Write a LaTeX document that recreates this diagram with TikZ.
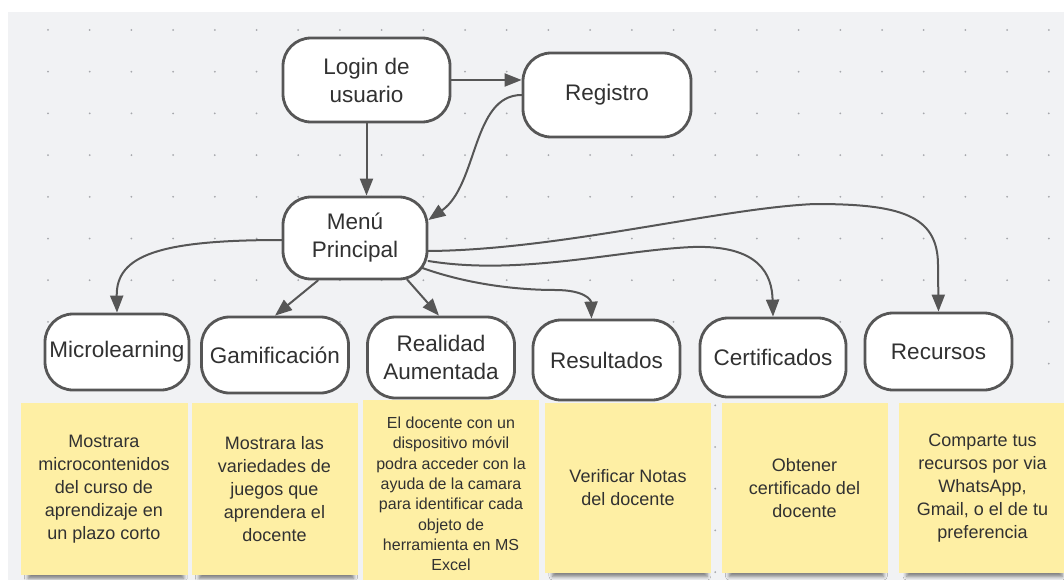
\documentclass[tikz,border=0pt]{standalone}
\usepackage{fontspec}
\setmainfont{Liberation Sans}
\usetikzlibrary{arrows.meta,shadows.blur}

\definecolor{fondo}{HTML}{F1F2F4}
\definecolor{punto}{HTML}{A6A8AC}
\definecolor{borde}{HTML}{565656}
\definecolor{amarillo}{HTML}{FEEFA4}
\definecolor{texto}{HTML}{313131}

\begin{document}
\begin{tikzpicture}[x=1pt, y=-1pt, line join=round, line cap=round,
    caja/.style={draw=borde, line width=2.8pt, fill=white, rounded corners=28pt,
        text=texto, align=center, inner sep=0pt, font=\fontsize{22.5}{28}\selectfont},
    nota/.style={fill=amarillo, text=texto, align=center, inner sep=0pt,
        font=\fontsize{18}{23}\selectfont,
        blur shadow={shadow xshift=2pt, shadow yshift=-10pt, shadow scale=0.93,
            shadow blur radius=4pt, shadow opacity=50}},
    flecha/.style={draw=borde, line width=2pt, -{Triangle[length=17pt,width=13pt]}}]

    % lienzo punteado
    \clip (0,0) rectangle (1064,580);
    \fill[white] (0,0) rectangle (1064,580);
    \fill[fondo] (8,12) rectangle (1064,580);
    \foreach \i in {0,...,24}
        \foreach \j in {0,...,13}
            \fill[punto] (48+41.7*\i, 30+41.7*\j) circle (1pt);

    % cajas
    \node[caja, minimum width=167pt, minimum height=84pt] (login) at (366.5,80) {Login de\\usuario};
    \node[caja, minimum width=168pt, minimum height=84pt] (reg) at (607,95) {Registro};
    \node[caja, minimum width=144pt, minimum height=82pt] (menu) at (355,238) {Menú\\Principal};

    \node[caja, minimum width=144pt, minimum height=76pt] (micro) at (117,352) {Microlearning};
    \node[caja, minimum width=147pt, minimum height=76pt] (gami) at (275,355) {Gamificación};
    \node[caja, minimum width=147pt, minimum height=81pt] (ra) at (441,357.5) {Realidad\\Aumentada};
    \node[caja, minimum width=147pt, minimum height=80pt] (res) at (606.5,360) {Resultados};
    \node[caja, minimum width=146pt, minimum height=79pt] (cert) at (773,357.5) {Certificados};
    \node[caja, minimum width=147pt, minimum height=77pt] (rec) at (938.5,351.5) {Recursos};

    % notas
    \node[nota, minimum width=167pt, minimum height=172pt] (nmicro) at (104,489)
        {Mostrara\\microcontenidos\\del curso de\\aprendizaje en\\un plazo corto};
    \node[nota, minimum width=166pt, minimum height=172pt] (ngami) at (274.5,489)
        {Mostrara las\\variedades de\\juegos que\\aprendera el\\docente};
    \node[nota, minimum width=176pt, minimum height=188pt, font=\fontsize{16}{20.3}\selectfont] (nra) at (451,494)
        {El docente con un\\dispositivo móvil\\podra acceder con la\\ayuda de la camara\\para identificar cada\\objeto de\\herramienta en MS\\Excel};
    \node[nota, minimum width=166pt, minimum height=170pt] (nres) at (628,488)
        {Verificar Notas\\del docente};
    \node[nota, minimum width=166pt, minimum height=170pt] (ncert) at (804.5,488)
        {Obtener\\certificado del\\docente};
    \node[nota, minimum width=167pt, minimum height=170pt] (nrec) at (982.5,488)
        {Comparte tus\\recursos por via\\WhatsApp,\\Gmail, o el de tu\\preferencia};

    % conexiones
    \draw[flecha] (login.east) -- (login.east -| reg.west);
    \draw[flecha] (login.south) -- (login.south |- menu.north);
    \draw[flecha] (reg.west) .. controls (472,95) and (478,185) .. ([yshift=18pt]menu.east);

    \draw[flecha] ([yshift=-2pt]menu.west) .. controls (160,240) and (116,255) .. (micro.north);
    \draw[flecha] ([xshift=-37pt]menu.south) -- (gami.north);
    \draw[flecha] ([xshift=52pt,yshift=1pt]menu.south) -- ([xshift=-2pt]ra.north);
    \draw[flecha] ([xshift=-6pt,yshift=-30pt]menu.east) .. controls (470,285) and (520,290) .. (555,290)
        .. controls (585,290) and (591,300) .. ([xshift=-15pt]res.north);
    \draw[flecha] ([yshift=-23pt]menu.east) .. controls (520,276) and (620,250) .. (693,247)
        .. controls (760,245) and (772,275) .. (cert.north);
    \draw[flecha] ([yshift=-13pt]menu.east) .. controls (560,250) and (720,208) .. (815,204)
        .. controls (900,204) and (938,215) .. (938,265) -- (rec.north);
\end{tikzpicture}
\end{document}
